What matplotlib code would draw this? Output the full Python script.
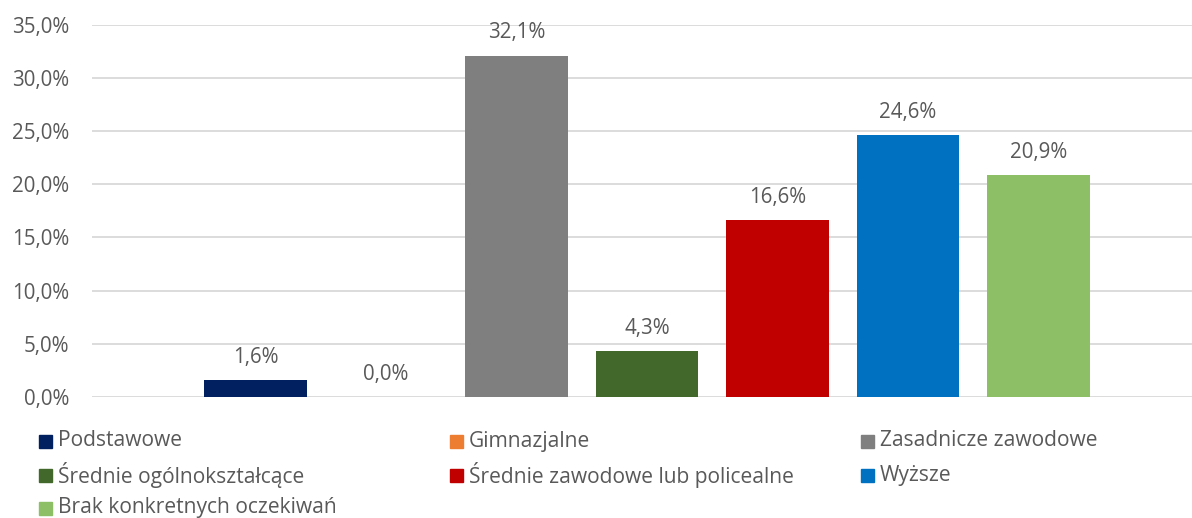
import matplotlib
matplotlib.use("Agg")
import matplotlib.pyplot as plt
from matplotlib.patches import Rectangle
from matplotlib.ticker import FuncFormatter

categories = ["Podstawowe", "Gimnazjalne", "Zasadnicze zawodowe",
              "Średnie ogólnokształcące", "Średnie zawodowe lub policealne",
              "Wyższe", "Brak konkretnych oczekiwań"]
values = [1.6, 0.0, 32.1, 4.3, 16.6, 24.6, 20.9]
colors = ["#002060", "#ED7D31", "#7F7F7F", "#43682B", "#C00000", "#0070C0", "#8DC066"]
y_ticks = [0, 5, 10, 15, 20, 25, 30, 35]

plt.rcParams['font.family'] = ['Open Sans', 'DejaVu Sans']
TXT = "#595959"
FS = 14.8
FS_LEG = 15.1

W, H = 1192, 518
fig = plt.figure(figsize=(W / 100, H / 100), dpi=100)
ax = fig.add_axes([92 / W, 1 - 397 / H, 1100 / W, (397 - 24.7) / H])

xs = list(range(len(values)))
ax.bar(xs, values, width=0.789, color=colors, zorder=3)

for x, v in zip(xs, values):
    ax.annotate(f"{v:.1f}%".replace(".", ","), (x, v), xytext=(0, 16.3),
                textcoords="offset points", ha="center", va="center",
                fontsize=FS, color=TXT)

ax.set_ylim(0, 35)
ax.set_xlim(-1.2529, 7.1762)
ax.set_yticks(y_ticks)
ax.yaxis.set_major_formatter(FuncFormatter(lambda v, p: f"{v:.1f}%".replace(".", ",")))
ax.set_xticks([])
ax.tick_params(axis="y", length=0, pad=16.5, labelsize=FS, labelcolor=TXT)
ax.grid(axis="y", color="#D9D9D9", linewidth=1.3, zorder=0)
for s in ax.spines.values():
    s.set_visible(False)

# Legend (3 equal-width columns, like Excel)
col_x = [39, 450, 861]
row_y = [441, 475, 508]
msize = 13
for i, (name, c) in enumerate(zip(categories, colors)):
    r, col = divmod(i, 3)
    x0, yc = col_x[col], row_y[r]
    fig.patches.append(Rectangle((x0 / W, 1 - (yc + msize / 2) / H), msize / W, msize / H,
                                 transform=fig.transFigure, color=c, figure=fig))
    fig.text((x0 + 19) / W, 1 - yc / H, name, ha="left", va="center",
             fontsize=FS_LEG, color=TXT)

fig.savefig("out.png", dpi=100, facecolor="white")
